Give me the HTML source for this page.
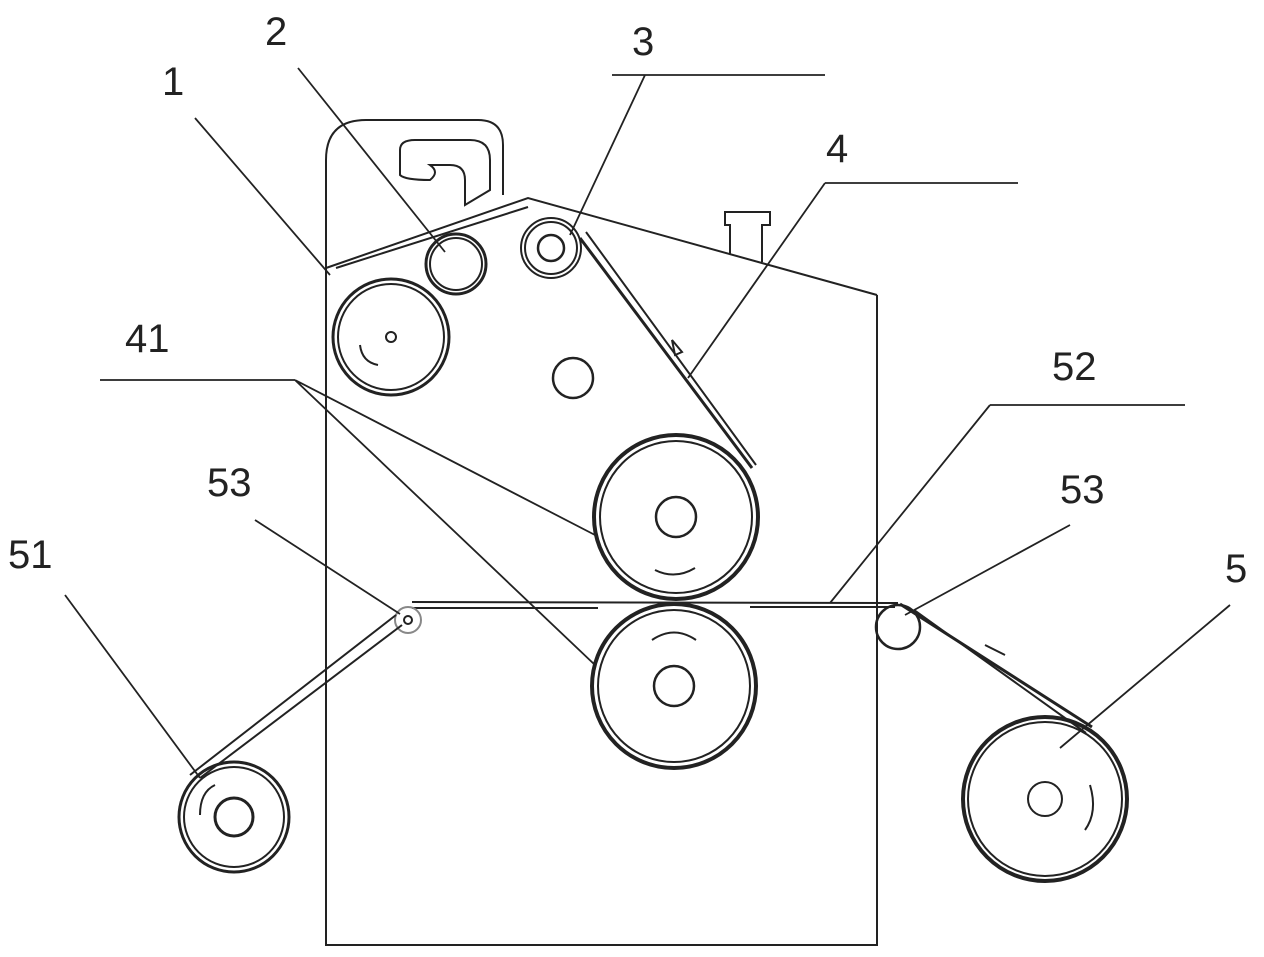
<!DOCTYPE html>
<html><head><meta charset="utf-8"><style>
html,body{margin:0;padding:0;background:#fff}
svg{display:block}
text{font-family:"Liberation Sans",sans-serif;font-size:40px;fill:#222}
</style></head><body>
<svg width="1264" height="957" viewBox="0 0 1264 957" xmlns="http://www.w3.org/2000/svg">
<g fill="none" stroke="#222" stroke-width="2">
<path d="M326,268 L326,945 L877,945 L877,295"/>
<path d="M326,268 L326,160 Q326,120 366,120 L478,120 Q503,120 503,145 L503,195"/>
<path d="M326,268 L528,198 L877,295"/>
<path d="M336,268 L528,207"/>
<path d="M400,175 L400,150 Q400,140 415,140 L470,140 Q490,140 490,160 L490,190 L465,205 L465,180 Q465,165 450,165 L430,165 Q440,172 430,180 Q405,180 400,175 Z"/>
<path d="M730,255 L730,225 L725,225 L725,212 L770,212 L770,225 L762,225 L762,262"/>
<circle cx="391" cy="337" r="58" stroke-width="3"/>
<circle cx="391" cy="337" r="53"/>
<circle cx="391" cy="337" r="5"/>
<path d="M360,345 Q362,362 378,365"/>
<circle cx="456" cy="264" r="30" stroke-width="3"/>
<circle cx="456" cy="264" r="26"/>
<circle cx="551" cy="248" r="30"/>
<circle cx="551" cy="248" r="26"/>
<circle cx="551" cy="248" r="13" stroke-width="2.5"/>
<circle cx="573" cy="378" r="20" stroke-width="2.5"/>
<path d="M580,238 L752,468" stroke-width="3"/>
<path d="M586,232 L756,465"/>
<path d="M672,340 L682,352 L675,355 Z"/>
<circle cx="676" cy="517" r="82" stroke-width="4"/>
<circle cx="676" cy="517" r="76"/>
<circle cx="676" cy="517" r="20" stroke-width="2.5"/>
<path d="M655,570 Q675,580 695,568" stroke-width="2"/>
<circle cx="674" cy="686" r="82" stroke-width="4"/>
<circle cx="674" cy="686" r="76"/>
<circle cx="674" cy="686" r="20" stroke-width="2.5"/>
<path d="M652,640 Q674,625 696,640"/>
<path d="M412,602 L898,603" stroke-width="2"/>
<path d="M412,608 L598,608"/>
<path d="M750,607 L895,607" stroke-width="2"/>
<circle cx="898" cy="627" r="22" stroke-width="2.5"/>
<path d="M900,604 L1092,727" stroke-width="3"/>
<path d="M914,610 L1086,733" stroke-width="2"/>
<path d="M985,645 L1005,655"/>
<circle cx="408" cy="620" r="13" stroke="#888"/>
<circle cx="408" cy="620" r="4"/>
<path d="M396,615 L190,775" stroke-width="2"/>
<path d="M402,625 L200,778" stroke-width="2"/>
<circle cx="234" cy="817" r="55" stroke-width="3"/>
<circle cx="234" cy="817" r="50"/>
<circle cx="234" cy="817" r="19" stroke-width="3"/>
<path d="M200,815 Q200,792 215,785"/>
<circle cx="1045" cy="799" r="82" stroke-width="4"/>
<circle cx="1045" cy="799" r="77"/>
<circle cx="1045" cy="799" r="17"/>
<path d="M1090,785 Q1098,812 1085,830" stroke-width="2"/>
<g stroke-width="1.8">
<path d="M195,118 L330,275"/>
<path d="M298,68 L445,252"/>
<path d="M612,75 L825,75 M645,75 L570,235"/>
<path d="M825,183 L1018,183 M825,183 L688,378"/>
<path d="M100,380 L295,380 M295,380 L595,535 M295,380 L595,665"/>
<path d="M990,405 L1185,405 M990,405 L830,603"/>
<path d="M255,520 L400,614"/>
<path d="M1070,525 L905,615"/>
<path d="M65,595 L200,778"/>
<path d="M1230,605 L1060,748"/>
</g>
</g>
<text x="162" y="95">1</text>
<text x="265" y="45">2</text>
<text x="632" y="55">3</text>
<text x="826" y="162">4</text>
<text x="125" y="352">41</text>
<text x="1052" y="380">52</text>
<text x="207" y="496">53</text>
<text x="1060" y="503">53</text>
<text x="8" y="568">51</text>
<text x="1225" y="582">5</text>
</svg>
</body></html>
